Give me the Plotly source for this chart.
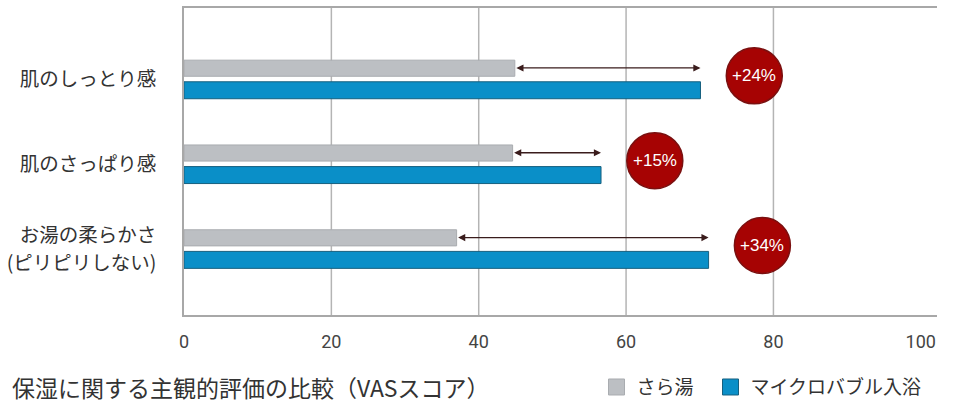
import plotly.graph_objects as go

categories = ["肌のしっとり感", "肌のさっぱり感", "お湯の柔らかさ<br>(ピリピリしない)"]
sarayu = [44.9, 44.6, 37.0]
microbubble = [70.1, 56.6, 71.2]
increase_labels = ["+24%", "+15%", "+34%"]
series_names = ["さら湯", "マイクロバブル入浴"]
x_ticks = [0, 20, 40, 60, 80, 100]
title_text = "保湿に関する主観的評価の比較（VASスコア）"

GRAY = "#bcbfc3"
BLUE = "#0a8fc8"
JP = "Noto Sans CJK JP"
pos = list(range(len(categories)))

# category tick labels: multi-line labels are split into separate ticks
LINE_STEP = 0.164  # half line spacing in category units
tick_vals, tick_text = [], []
for p, c in zip(pos, categories):
    lines = c.split("<br>")
    n = len(lines)
    for k, ln in enumerate(lines):
        tick_vals.append(p + (k - (n - 1) / 2) * 2 * LINE_STEP)
        tick_text.append(ln)

fig = go.Figure()
fig.add_trace(go.Bar(
    y=pos, x=sarayu, orientation="h", name=series_names[0], legendgroup="a",
    marker=dict(color=GRAY, line=dict(color="#a9acb0", width=1)),
    width=0.19, offset=-0.225, hoverinfo="x", showlegend=False,
))
fig.add_trace(go.Bar(
    y=pos, x=microbubble, orientation="h", name=series_names[1], legendgroup="b",
    marker=dict(color=BLUE, line=dict(color="#16607f", width=1)),
    width=0.2, offset=0.03, hoverinfo="x", showlegend=False,
))
# legend entries with larger square swatches
fig.add_trace(go.Scatter(x=[None], y=[None], mode="markers", name=series_names[0], legendgroup="a",
                         legend="legend",
                         marker=dict(symbol="square", size=16, color=GRAY, line=dict(color="#a9acb0", width=1))))
fig.add_trace(go.Scatter(x=[None], y=[None], mode="markers", name=series_names[1], legendgroup="b",
                         legend="legend2",
                         marker=dict(symbol="square", size=16, color=BLUE, line=dict(color="#16607f", width=1))))

# vertical gridlines (none at 0 / 100)
for t in x_ticks[1:-1]:
    fig.add_shape(type="line", xref="x", yref="paper", x0=t, x1=t, y0=0, y1=1,
                  line=dict(color="#b4b4b4", width=1.5), layer="below")

CIRCLE_OFFSET = 7.3
for i, (g, b, lab) in enumerate(zip(sarayu, microbubble, increase_labels)):
    ya = i - 0.133
    fig.add_annotation(x=b, y=ya, ax=g, ay=ya, xref="x", yref="y", axref="x", ayref="y",
                       text="", showarrow=True, arrowhead=2, arrowside="end+start",
                       arrowsize=1.1, arrowwidth=1.3, arrowcolor="#3a1c1c",
                       standoff=0, startstandoff=0)
    cx = b + CIRCLE_OFFSET
    cy = i - 0.04
    fig.add_shape(type="circle", xref="x", yref="y", xsizemode="pixel", ysizemode="pixel",
                  xanchor=cx, yanchor=cy, x0=-28, x1=28, y0=-28, y1=28,
                  fillcolor="#a60303", line=dict(color="#7a1010", width=1.5), layer="above")
    fig.add_annotation(x=cx, y=cy, xref="x", yref="y", text=lab, showarrow=False,
                       font=dict(family="Liberation Sans", size=17, color="white"))

fig.add_annotation(x=0, xref="paper", xanchor="left", y=-0.235, yref="paper", yanchor="middle",
                   xshift=-174, text=title_text, showarrow=False,
                   font=dict(family=JP, size=23, color="#333333"))

PW = 753.0
legend_common = dict(orientation="h", xanchor="left", y=-0.235, yanchor="middle",
                     font=dict(family=JP, size=19, color="#333333"), itemwidth=30,
                     bgcolor="rgba(0,0,0,0)", itemclick=False, itemdoubleclick=False)

fig.update_layout(
    width=962, height=416,
    margin=dict(l=184, r=25, t=6, b=101),
    plot_bgcolor="white", paper_bgcolor="white",
    barmode="overlay",
    showlegend=True,
    legend=dict(x=(596.5 - 184) / PW, **legend_common),
    legend2=dict(x=(710.5 - 184) / PW, **legend_common),
    xaxis=dict(range=[0, 102.2], tickvals=x_ticks, showgrid=False, zeroline=False,
               showline=True, mirror=True, linecolor="#a8a8a8", linewidth=1.5,
               ticks="", tickfont=dict(family="Roboto", size=18, color="#444444"),
               ticklabelstandoff=10, fixedrange=True),
    yaxis=dict(range=[2.78, -0.84], tickvals=tick_vals, ticktext=tick_text, showgrid=False,
               zeroline=False, showline=True, linecolor="#a8a8a8", linewidth=1.5,
               ticks="", tickfont=dict(family=JP, size=19.5, color="#333333"),
               ticklabelstandoff=22, fixedrange=True),
    font=dict(family=JP),
)

fig.write_html("out.html", config={"displayModeBar": False},
               post_script="document.body.style.margin='0';document.body.style.padding='0';")
